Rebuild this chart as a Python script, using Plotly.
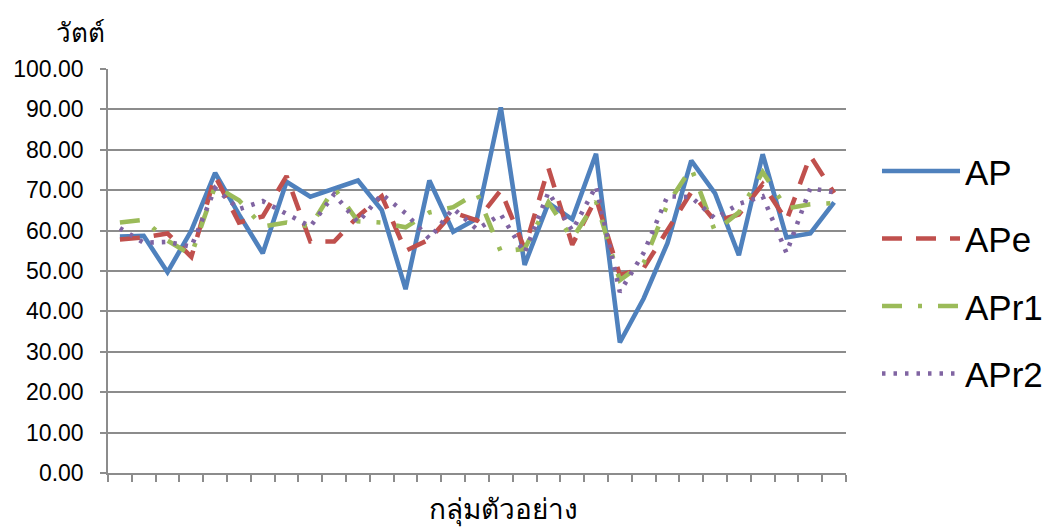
import plotly.graph_objects as go

categories = [str(i) for i in range(1, 32)]

AP = [58.5, 58.7, 49.7, 60.0, 74.3, 64.0, 54.4, 72.1, 68.4, 70.4, 72.4, 65.1, 45.5, 72.4, 59.7, 63.0,
      90.5, 51.5, 66.8, 62.8, 79.0, 32.3, 43.2, 56.9, 77.3, 69.2, 53.9, 78.9, 58.3, 59.3, 67.0]
APe = [57.8, 58.3, 59.3, 53.5, 73.5, 62.0, 63.5, 73.5, 57.3, 57.3, 63.5, 68.5, 55.0, 57.8, 64.5, 62.5,
       70.0, 55.5, 75.5, 56.5, 68.0, 49.0, 50.7, 60.0, 69.5, 62.3, 64.0, 71.5, 62.5, 78.5, 69.3]
APr1 = [62.0, 62.7, 57.5, 54.0, 71.0, 67.5, 61.0, 62.0, 61.0, 70.5, 62.3, 62.0, 60.8, 64.5, 65.8, 69.3,
        54.8, 55.5, 67.0, 58.0, 67.2, 47.7, 52.0, 66.5, 75.5, 59.8, 64.5, 74.5, 65.5, 66.5, 66.8]
APr2 = [60.6, 57.0, 57.2, 56.0, 70.5, 65.3, 67.3, 64.0, 61.0, 69.0, 62.0, 69.0, 64.3, 58.0, 65.5, 60.3,
        64.0, 54.5, 69.5, 60.0, 71.0, 44.8, 54.5, 68.5, 68.3, 63.0, 66.6, 68.5, 54.5, 70.5, 69.5]

series = [
    ("AP", AP, "#4F81BD", "solid"),
    ("APe", APe, "#C0504D", "20px,14px"),
    ("APr1", APr1, "#9BBB59", "20px,16px,4px,16px"),
    ("APr2", APr2, "#8064A2", "3.5px,8px"),
]

fig = go.Figure()
for name, vals, color, dash in series:
    fig.add_trace(go.Scatter(
        x=categories, y=vals, name=name, mode="lines", legendgroup=name,
        line=dict(color=color, width=4.6, dash=dash),
    ))

grid = "#8c8c8c"
fig.update_layout(
    width=1060, height=527,
    margin=dict(l=108, r=212, t=69, b=54),
    plot_bgcolor="white", paper_bgcolor="white",
    font=dict(family="Liberation Sans, Arial, sans-serif", color="black"),
    showlegend=True,
    legend=dict(
        x=1.042, xanchor="left", y=0.497, yanchor="middle",
        font=dict(size=35), traceorder="grouped", tracegroupgap=19,
        itemwidth=78, bgcolor="rgba(0,0,0,0)",
    ),
    xaxis=dict(
        type="category", range=[-0.5, 30.5], showticklabels=False,
        tickson="boundaries", ticks="outside", ticklen=7, tickcolor=grid, tickwidth=1.5,
        showline=True, linecolor=grid, linewidth=1.5, showgrid=False, zeroline=False,
    ),
    yaxis=dict(
        range=[0, 100], dtick=10, tickformat=".2f", showgrid=True, gridcolor=grid, gridwidth=1.5,
        ticks="outside", ticklen=6, tickcolor=grid, tickwidth=1.5, ticklabelstandoff=12,
        showline=True, linecolor=grid, linewidth=1.5, zeroline=False,
        tickfont=dict(size=23),
    ),
    annotations=[
        dict(text="วัตต์", xref="paper", yref="paper", x=(80 - 108) / 740, y=(473 - 33) / 404,
             xanchor="center", yanchor="middle", showarrow=False, font=dict(size=26)),
        dict(text="กลุ่มตัวอย่าง", xref="paper", yref="paper", x=(505 - 108) / 740, y=(473 - 510) / 404,
             xanchor="center", yanchor="middle", showarrow=False, font=dict(size=28)),
    ],
)

fig.write_html("out.html")
